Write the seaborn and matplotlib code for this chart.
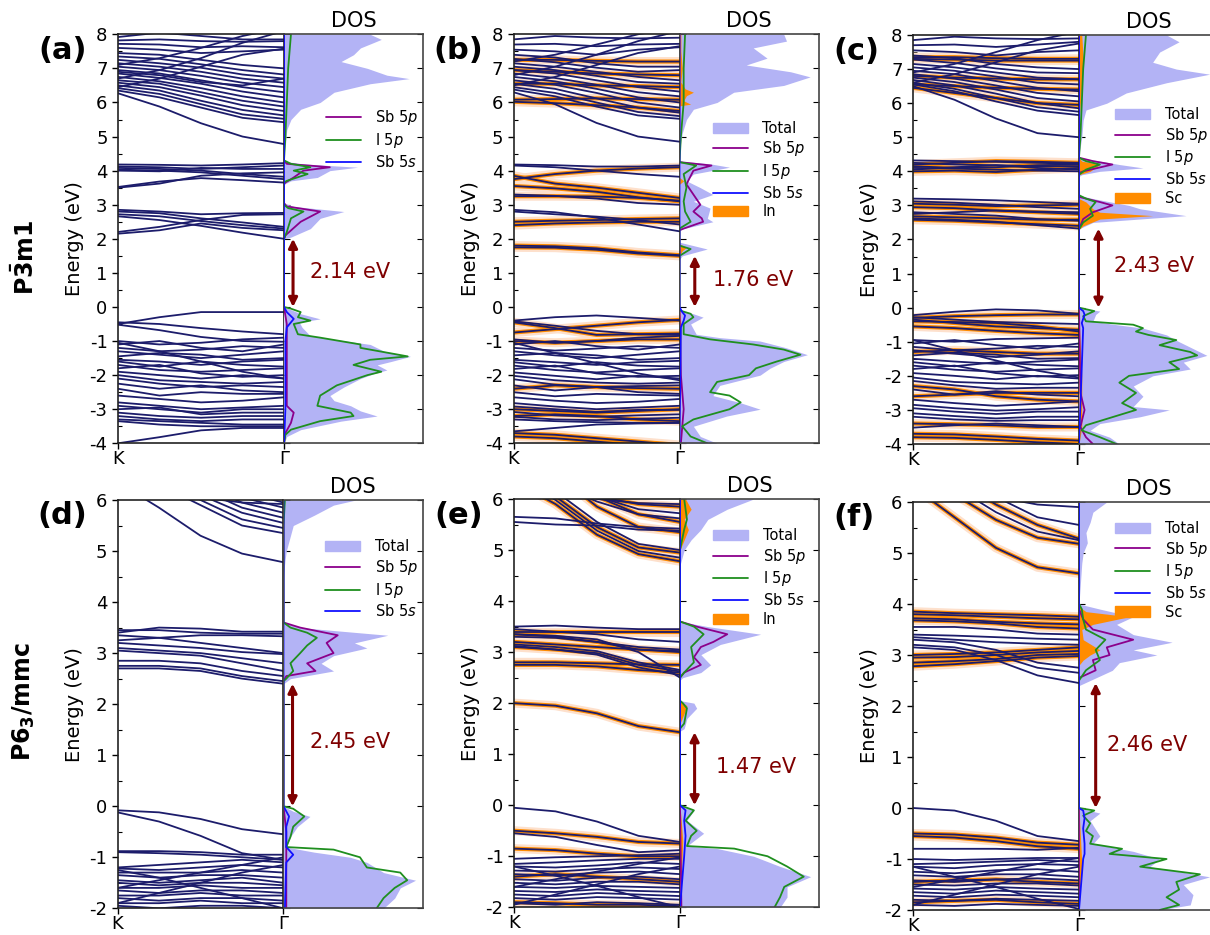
import numpy as np
import pandas as pd
import matplotlib
matplotlib.use('Agg')
import matplotlib.pyplot as plt
from matplotlib.patches import Patch
from matplotlib.lines import Line2D
import seaborn as sns

sns.set_style('ticks')
plt.rcParams['font.family'] = ['DejaVu Sans']
plt.rcParams['mathtext.fontset'] = 'dejavusans'
plt.rcParams['axes.unicode_minus'] = False
for key in ['text.color', 'axes.labelcolor', 'xtick.color', 'ytick.color']:
    plt.rcParams[key] = 'black'

# k-path samples from K (0) to Gamma (1)
k_pts = [0.0, 0.25, 0.5, 0.75, 1.0]

# ---------------- band energies (eV) at the k samples ----------------
# (a) P-3m1 pristine
a_plain = [
    [6.27, 5.88, 5.39, 5.00, 4.78], [6.35, 6.15, 5.85, 5.55, 5.42], [6.42, 6.25, 5.95, 5.65, 5.52],
    [6.50, 6.35, 6.05, 5.78, 5.62], [6.58, 6.45, 6.20, 5.92, 5.75], [6.65, 6.55, 6.30, 6.05, 5.88],
    [6.75, 6.62, 6.42, 6.18, 6.00], [6.85, 6.72, 6.55, 6.32, 6.15], [6.95, 6.85, 6.65, 6.45, 6.30],
    [7.05, 6.95, 6.78, 6.58, 6.45], [7.15, 7.05, 6.90, 6.70, 6.58], [7.25, 7.15, 7.02, 6.82, 6.70],
    [7.35, 7.28, 7.12, 6.95, 6.82], [7.45, 7.40, 7.25, 7.10, 7.00], [7.60, 7.55, 7.45, 7.50, 7.55],
    [7.72, 7.70, 7.62, 7.65, 7.62], [7.82, 7.85, 7.80, 7.78, 7.80], [7.92, 8.05, 7.95, 7.85, 7.85],
    [6.45, 6.70, 7.05, 7.40, 7.58], [6.70, 6.95, 7.30, 7.75, 8.10], [7.10, 7.30, 7.60, 7.95, 8.20],
    [6.90, 6.80, 6.60, 6.50, 6.70],
    [4.18, 4.17, 4.15, 4.18, 4.22], [4.12, 4.10, 4.05, 4.10, 4.15], [4.08, 4.05, 4.00, 3.90, 3.82],
    [4.03, 4.00, 3.95, 3.85, 3.75], [4.00, 3.98, 4.08, 4.05, 4.05], [3.50, 3.62, 3.85, 3.92, 3.95],
    [3.52, 3.68, 3.78, 3.72, 3.65],
    [2.85, 2.80, 2.72, 2.75, 2.76], [2.80, 2.75, 2.60, 2.48, 2.35], [2.72, 2.66, 2.52, 2.40, 2.30],
    [2.66, 2.55, 2.38, 2.18, 2.00], [2.20, 2.35, 2.55, 2.70, 2.72], [2.15, 2.25, 2.45, 2.32, 2.25],
    [-0.50, -0.30, -0.15, -0.15, -0.15], [-0.45, -0.50, -0.62, -0.72, -0.80], [-0.52, -0.68, -0.88, -1.00, -1.02],
    [-1.00, -1.10, -1.05, -0.95, -0.90], [-1.10, -1.00, -1.20, -1.30, -1.10], [-1.20, -1.30, -1.25, -1.15, -1.20],
    [-1.30, -1.40, -1.50, -1.40, -1.30], [-1.45, -1.35, -1.40, -1.55, -1.50], [-1.55, -1.60, -1.70, -1.60, -1.55],
    [-1.60, -1.75, -1.60, -1.70, -1.75], [-1.70, -1.85, -1.90, -1.85, -1.80], [-1.80, -1.70, -1.95, -2.05, -2.00],
    [-1.90, -2.00, -2.10, -2.00, -2.10], [-2.00, -2.15, -2.20, -2.25, -2.20], [-2.10, -2.25, -2.35, -2.30, -2.35],
    [-2.25, -2.40, -2.30, -2.45, -2.50], [-2.40, -2.60, -2.50, -2.55, -2.55], [-2.60, -2.70, -2.80, -2.75, -2.65],
    [-2.80, -2.90, -3.00, -2.95, -2.90], [-2.90, -3.00, -3.10, -3.00, -3.00], [-3.00, -2.95, -3.15, -3.10, -3.10],
    [-3.10, -3.20, -3.25, -3.20, -3.20], [-3.20, -3.30, -3.35, -3.30, -3.30], [-3.30, -3.35, -3.40, -3.45, -3.45],
    [-3.35, -3.45, -3.50, -3.50, -3.50], [-4.00, -3.82, -3.62, -3.55, -3.55], [-1.05, -1.30, -1.60, -1.90, -2.10],
]
a_orange = []

# (b) P-3m1 with In
b_plain = [
    [6.30, 5.95, 5.40, 5.00, 4.85], [6.38, 6.18, 5.88, 5.62, 5.52], [6.45, 6.28, 6.00, 5.72, 5.60],
    [6.55, 6.40, 6.12, 5.85, 5.70], [6.65, 6.52, 6.28, 6.00, 5.85], [6.75, 6.62, 6.40, 6.15, 6.00],
    [6.85, 6.72, 6.52, 6.30, 6.18], [6.95, 6.85, 6.65, 6.45, 6.32], [7.05, 6.95, 6.78, 6.60, 6.55],
    [7.15, 7.05, 6.90, 6.75, 6.65], [7.28, 7.18, 7.02, 6.90, 6.95], [7.40, 7.32, 7.15, 7.05, 7.05],
    [7.55, 7.50, 7.40, 7.55, 7.62], [7.70, 7.72, 7.65, 7.70, 7.72], [7.85, 7.95, 7.90, 7.88, 7.90],
    [6.50, 6.75, 7.10, 7.45, 7.65], [6.80, 7.05, 7.40, 7.80, 8.10], [7.20, 7.40, 7.70, 8.00, 8.20],
    [4.18, 4.16, 4.12, 4.12, 4.15], [4.15, 4.10, 4.00, 3.90, 3.82], [2.85, 2.78, 2.62, 2.42, 2.22],
    [3.30, 3.26, 3.18, 3.05, 3.00], [2.80, 2.72, 2.65, 2.55, 2.42],
    [-0.40, -0.30, -0.25, -0.32, -0.40], [-0.42, -0.55, -0.70, -0.80, -0.82],
    [-0.95, -1.05, -1.00, -0.90, -0.85], [-1.10, -1.00, -1.15, -1.25, -1.10], [-1.20, -1.28, -1.22, -1.15, -1.20],
    [-1.30, -1.42, -1.50, -1.40, -1.30], [-1.42, -1.35, -1.42, -1.55, -1.50], [-1.55, -1.62, -1.70, -1.62, -1.58],
    [-1.62, -1.75, -1.62, -1.72, -1.75], [-1.72, -1.85, -1.92, -1.85, -1.80], [-1.82, -1.72, -1.95, -2.05, -2.02],
    [-1.92, -2.02, -2.12, -2.02, -2.10], [-2.02, -2.15, -2.22, -2.25, -2.22], [-2.12, -2.28, -2.35, -2.32, -2.30],
    [-2.30, -2.45, -2.35, -2.50, -2.55], [-2.50, -2.62, -2.55, -2.58, -2.60], [-2.65, -2.75, -2.82, -2.78, -2.70],
    [-2.82, -2.92, -3.00, -2.95, -2.90], [-2.92, -3.00, -3.08, -3.02, -3.02], [-3.08, -3.18, -3.22, -3.18, -3.15],
    [-3.22, -3.30, -3.32, -3.28, -3.25], [-3.30, -3.35, -3.38, -3.40, -3.40], [-3.65, -3.55, -3.45, -3.42, -3.40],
    [-1.05, -1.35, -1.65, -1.95, -2.15],
]
b_orange = [
    [6.02, 5.98, 5.92, 5.85, 5.75], [6.55, 6.55, 6.50, 6.48, 6.45], [6.95, 6.90, 6.85, 6.82, 6.80],
    [7.25, 7.25, 7.22, 7.20, 7.20], [6.08, 6.10, 6.12, 6.10, 6.08],
    [3.85, 3.62, 3.50, 3.35, 3.20], [3.75, 3.90, 4.00, 4.06, 4.10], [3.55, 3.48, 3.38, 3.22, 3.10],
    [3.25, 3.25, 3.24, 3.20, 3.12], [2.50, 2.53, 2.55, 2.58, 2.60], [2.40, 2.45, 2.48, 2.50, 2.50],
    [1.80, 1.78, 1.72, 1.60, 1.52], [1.75, 1.74, 1.68, 1.57, 1.50],
    [-0.45, -0.62, -0.82, -0.80, -0.78], [-0.75, -0.65, -0.55, -0.45, -0.38],
    [-1.00, -1.05, -1.00, -0.95, -0.95], [-2.40, -2.30, -2.35, -2.38, -2.40], [-3.00, -3.05, -3.10, -3.05, -3.00],
    [-3.20, -3.15, -3.20, -3.30, -3.35], [-3.70, -3.75, -3.85, -3.95, -4.05], [-3.80, -3.85, -3.95, -4.05, -4.12],
]

# (c) P-3m1 with Sc
c_plain = [
    [6.50, 6.10, 5.55, 5.12, 5.00], [6.55, 6.35, 6.05, 5.78, 5.65], [6.60, 6.42, 6.15, 5.88, 5.75],
    [6.68, 6.52, 6.28, 6.00, 5.85], [6.75, 6.62, 6.40, 6.15, 6.05], [6.85, 6.72, 6.52, 6.30, 6.20],
    [6.95, 6.85, 6.65, 6.45, 6.35], [7.05, 6.95, 6.78, 6.60, 6.55], [7.15, 7.05, 6.90, 6.75, 6.70],
    [7.28, 7.18, 7.02, 6.90, 6.88], [7.40, 7.32, 7.15, 7.05, 7.00], [7.55, 7.50, 7.40, 7.50, 7.55],
    [7.70, 7.72, 7.65, 7.72, 7.80], [7.85, 7.95, 7.90, 7.88, 7.90], [6.60, 6.85, 7.20, 7.55, 7.75],
    [6.90, 7.15, 7.50, 7.85, 8.10],
    [4.32, 4.30, 4.28, 4.25, 4.22], [4.25, 4.20, 4.18, 4.15, 4.15], [4.10, 4.08, 4.05, 4.02, 4.00],
    [4.05, 4.12, 4.18, 4.10, 4.05],
    [3.20, 3.18, 3.15, 3.10, 3.05], [3.12, 3.08, 3.02, 2.95, 2.90], [2.80, 2.75, 2.70, 2.60, 2.55],
    [2.62, 2.58, 2.52, 2.42, 2.32], [2.75, 2.80, 2.85, 2.82, 2.80],
    [-0.22, -0.12, -0.05, -0.08, -0.18], [-0.28, -0.35, -0.42, -0.45, -0.48],
    [-0.95, -1.00, -0.92, -0.90, -0.88], [-1.05, -0.95, -1.10, -1.20, -1.05], [-1.15, -1.25, -1.20, -1.12, -1.15],
    [-1.25, -1.35, -1.45, -1.38, -1.28], [-1.40, -1.32, -1.38, -1.50, -1.48], [-1.50, -1.58, -1.65, -1.58, -1.52],
    [-1.60, -1.72, -1.60, -1.68, -1.72], [-1.70, -1.82, -1.88, -1.82, -1.78], [-1.80, -1.70, -1.92, -2.02, -1.98],
    [-1.92, -2.00, -2.10, -2.00, -2.08], [-2.05, -2.18, -2.22, -2.25, -2.20], [-2.15, -2.28, -2.38, -2.35, -2.35],
    [-2.40, -2.55, -2.45, -2.55, -2.60], [-2.70, -2.80, -2.88, -2.82, -2.75], [-2.85, -2.95, -3.02, -2.98, -2.92],
    [-2.95, -3.05, -3.12, -3.05, -3.05], [-3.10, -3.18, -3.25, -3.20, -3.20], [-3.20, -3.28, -3.32, -3.30, -3.30],
    [-3.52, -3.45, -3.40, -3.45, -3.50], [-0.95, -1.25, -1.55, -1.85, -2.05],
]
c_orange = [
    [6.45, 6.30, 6.15, 6.00, 5.95], [6.55, 6.50, 6.45, 6.42, 6.40], [6.80, 6.75, 6.72, 6.70, 6.70],
    [7.30, 7.28, 7.25, 7.25, 7.25], [7.35, 7.35, 7.32, 7.30, 7.30],
    [4.20, 4.25, 4.30, 4.28, 4.25], [4.00, 4.02, 3.98, 4.05, 4.10], [4.15, 4.10, 4.12, 4.18, 4.20],
    [3.05, 3.02, 2.98, 3.00, 3.02], [2.95, 2.92, 2.85, 2.80, 2.75], [2.68, 2.65, 2.62, 2.58, 2.58],
    [2.58, 2.55, 2.50, 2.45, 2.40],
    [-0.35, -0.45, -0.55, -0.60, -0.65], [-0.40, -0.42, -0.45, -0.55, -0.70], [-0.55, -0.60, -0.68, -0.75, -0.80],
    [-0.30, -0.25, -0.22, -0.20, -0.20],
    [-2.30, -2.40, -2.60, -2.70, -2.75], [-2.60, -2.55, -2.50, -2.50, -2.50], [-3.40, -3.42, -3.45, -3.50, -3.50],
    [-1.30, -1.25, -1.30, -1.35, -1.35], [-3.70, -3.72, -3.78, -3.85, -3.90], [-3.80, -3.82, -3.88, -3.95, -4.00],
]

# (d) P6_3/mmc pristine
d_plain = [
    [6.35, 5.85, 5.30, 4.95, 4.78], [6.60, 6.30, 5.90, 5.50, 5.35], [6.70, 6.40, 6.00, 5.62, 5.45],
    [6.80, 6.50, 6.10, 5.75, 5.55], [6.90, 6.60, 6.22, 5.85, 5.65], [7.00, 6.70, 6.32, 5.95, 5.75],
    [7.00, 6.80, 6.42, 6.05, 5.85], [7.10, 6.90, 6.55, 6.15, 5.95], [6.40, 6.20, 6.05, 5.95, 5.92],
    [3.40, 3.50, 3.48, 3.42, 3.42], [3.45, 3.45, 3.40, 3.38, 3.38], [3.35, 3.30, 3.35, 3.35, 3.33],
    [3.25, 3.30, 3.20, 3.10, 3.00], [3.20, 3.15, 3.10, 3.02, 2.98], [3.10, 3.05, 3.00, 2.90, 2.80],
    [3.05, 3.00, 2.95, 2.80, 2.65], [2.85, 2.85, 2.80, 2.65, 2.55], [2.75, 2.75, 2.70, 2.55, 2.45],
    [2.70, 2.70, 2.65, 2.50, 2.40],
    [-0.08, -0.12, -0.25, -0.45, -0.55], [-0.12, -0.30, -0.58, -0.92, -1.05],
    [-0.88, -0.88, -0.90, -0.95, -0.95], [-0.90, -0.92, -0.95, -1.00, -1.05], [-1.20, -1.15, -1.10, -1.05, -1.10],
    [-1.22, -1.25, -1.20, -1.15, -1.20], [-1.30, -1.30, -1.30, -1.25, -1.30], [-1.35, -1.40, -1.35, -1.35, -1.40],
    [-1.45, -1.50, -1.45, -1.40, -1.50], [-1.50, -1.55, -1.50, -1.50, -1.55], [-1.60, -1.60, -1.55, -1.60, -1.60],
    [-1.65, -1.70, -1.65, -1.65, -1.70], [-1.75, -1.75, -1.70, -1.75, -1.75], [-1.80, -1.85, -1.80, -1.80, -1.85],
    [-1.90, -1.90, -1.85, -1.90, -1.90], [-1.95, -2.00, -1.95, -1.95, -2.00], [-1.60, -1.45, -1.30, -1.15, -1.00],
    [-1.90, -1.70, -1.50, -1.30, -1.15], [-1.25, -1.40, -1.60, -1.80, -2.00],
]
d_orange = []

# (e) P6_3/mmc with In
e_plain = [
    [5.65, 5.62, 5.52, 5.45, 5.42], [5.55, 5.50, 5.48, 5.40, 5.38], [6.60, 6.30, 5.95, 5.70, 5.62],
    [6.70, 6.40, 6.05, 5.80, 5.72], [6.30, 6.15, 6.00, 5.92, 5.90], [6.45, 5.98, 5.38, 4.98, 4.85],
    [6.65, 6.15, 5.55, 5.12, 5.00],
    [3.50, 3.52, 3.48, 3.45, 3.45], [3.45, 3.40, 3.35, 3.25, 3.20], [3.30, 3.28, 3.20, 3.10, 3.05],
    [3.15, 3.10, 3.02, 2.80, 2.65], [3.12, 3.05, 2.95, 2.70, 2.55], [3.35, 3.32, 3.25, 3.00, 2.50],
    [-0.05, -0.12, -0.32, -0.60, -0.72], [-0.55, -0.62, -0.78, -0.92, -0.88],
    [-1.05, -1.02, -1.00, -0.98, -0.95], [-1.15, -1.12, -1.08, -1.05, -1.05], [-1.20, -1.22, -1.18, -1.12, -1.15],
    [-1.28, -1.30, -1.25, -1.22, -1.25], [-1.35, -1.38, -1.32, -1.30, -1.35], [-1.45, -1.48, -1.42, -1.40, -1.45],
    [-1.52, -1.55, -1.50, -1.50, -1.55], [-1.60, -1.62, -1.58, -1.60, -1.62], [-1.68, -1.70, -1.65, -1.68, -1.70],
    [-1.75, -1.78, -1.72, -1.75, -1.78], [-1.82, -1.85, -1.80, -1.82, -1.85], [-1.92, -1.95, -1.90, -1.92, -1.95],
    [-1.60, -1.45, -1.30, -1.15, -1.02], [-1.95, -1.75, -1.55, -1.35, -1.20], [-1.20, -1.38, -1.58, -1.80, -2.00],
]
e_orange = [
    [6.35, 5.90, 5.30, 4.92, 4.78], [6.55, 6.05, 5.45, 5.05, 4.95], [7.00, 6.50, 5.85, 5.45, 5.35],
    [6.80, 6.45, 6.05, 5.70, 5.55], [6.40, 6.25, 6.05, 5.90, 5.85],
    [3.40, 3.40, 3.40, 3.40, 3.40], [3.35, 3.30, 3.20, 3.05, 3.00], [3.20, 3.15, 3.10, 3.05, 3.02],
    [2.80, 2.80, 2.78, 2.76, 2.75], [2.75, 2.75, 2.72, 2.65, 2.60], [3.10, 3.05, 2.98, 2.75, 2.62],
    [2.00, 1.95, 1.80, 1.55, 1.43],
    [-0.50, -0.55, -0.62, -0.72, -0.75], [-0.85, -0.88, -0.95, -1.00, -1.00],
    [-1.90, -1.92, -1.95, -1.95, -1.98], [-1.40, -1.35, -1.40, -1.45, -1.50],
]

# (f) P6_3/mmc with Sc
f_plain = [
    [6.75, 6.30, 5.80, 5.42, 5.25], [7.00, 6.55, 6.10, 5.70, 5.55], [6.50, 6.30, 6.10, 5.95, 5.90],
    [3.55, 3.55, 3.50, 3.42, 3.40], [3.40, 3.38, 3.35, 3.32, 3.30], [3.35, 3.30, 3.25, 3.22, 3.20],
    [3.30, 3.25, 3.10, 2.85, 2.75], [3.20, 3.15, 3.00, 2.75, 2.65], [3.15, 3.10, 2.90, 2.60, 2.45],
    [0.00, -0.05, -0.25, -0.55, -0.65], [-0.80, -0.80, -0.80, -0.82, -0.78],
    [-1.00, -1.02, -1.00, -0.98, -0.98], [-1.10, -1.08, -1.05, -1.02, -1.05], [-1.15, -1.18, -1.12, -1.10, -1.12],
    [-1.25, -1.28, -1.22, -1.20, -1.25], [-1.32, -1.35, -1.30, -1.30, -1.35], [-1.42, -1.45, -1.40, -1.38, -1.42],
    [-1.50, -1.52, -1.48, -1.48, -1.52], [-1.58, -1.60, -1.55, -1.58, -1.60], [-1.65, -1.68, -1.62, -1.65, -1.68],
    [-1.72, -1.75, -1.70, -1.72, -1.75], [-1.80, -1.82, -1.78, -1.80, -1.82], [-1.90, -1.92, -1.88, -1.90, -1.92],
    [-1.55, -1.40, -1.25, -1.10, -0.98], [-1.90, -1.70, -1.50, -1.30, -1.15], [-1.15, -1.35, -1.55, -1.78, -1.98],
]
f_orange = [
    [6.30, 5.70, 5.10, 4.72, 4.60], [6.60, 6.15, 5.65, 5.30, 5.18], [6.90, 6.45, 5.95, 5.55, 5.28],
    [3.85, 3.82, 3.80, 3.78, 3.75], [3.80, 3.78, 3.75, 3.72, 3.70], [3.72, 3.70, 3.65, 3.62, 3.60],
    [3.68, 3.66, 3.62, 3.55, 3.52], [3.00, 3.02, 3.05, 3.10, 3.15], [2.95, 2.96, 3.00, 3.05, 3.08],
    [2.85, 2.88, 2.92, 3.00, 3.02], [2.78, 2.82, 2.88, 2.95, 2.98],
    [-0.50, -0.52, -0.58, -0.68, -0.72], [-0.55, -0.58, -0.65, -0.75, -0.80],
    [-1.45, -1.42, -1.40, -1.45, -1.48], [-1.85, -1.82, -1.80, -1.85, -1.88],
]

# ---------------- DOS: (energy eV, DOS arb. units) ----------------
a_total = [(-4.0, 0), (-3.8, 2), (-3.6, 12), (-3.35, 41), (-3.2, 67), (-3.05, 55), (-2.9, 48), (-2.75, 36),
           (-2.6, 33), (-2.35, 43), (-2.1, 55), (-1.95, 65), (-1.85, 74), (-1.7, 67), (-1.6, 77), (-1.45, 91),
           (-1.3, 72), (-1.1, 62), (-0.95, 36), (-0.85, 19), (-0.6, 13), (-0.45, 11), (-0.35, 26), (-0.2, 12),
           (-0.08, 5), (0.0, 0), (2.0, 0), (2.05, 5), (2.3, 19), (2.6, 26), (2.8, 43), (2.95, 7), (3.05, 0),
           (3.6, 0), (3.7, 5), (3.8, 24), (4.0, 33), (4.1, 53), (4.2, 12), (4.28, 0), (4.5, 0), (4.75, 1),
           (5.2, 2), (5.5, 5), (5.8, 12), (6.0, 26), (6.3, 36), (6.55, 62), (6.7, 90), (6.8, 74), (7.0, 60),
           (7.2, 41), (7.4, 50), (7.6, 55), (7.85, 70), (8.0, 62)]
a_i5p = [(-4.0, 0), (-3.75, 1), (-3.6, 5), (-3.35, 26), (-3.2, 50), (-3.1, 48), (-2.9, 24), (-2.6, 26),
         (-2.3, 38), (-2.0, 60), (-1.9, 70), (-1.7, 50), (-1.55, 62), (-1.45, 89), (-1.2, 55), (-1.1, 55),
         (-0.9, 26), (-0.8, 10), (-0.5, 7), (-0.4, 19), (-0.3, 10), (-0.15, 12), (-0.05, 5), (0.0, 0), (2.0, 0),
         (2.2, 2), (2.6, 5), (2.8, 14), (2.9, 3), (3.0, 0), (3.65, 0), (3.7, 2), (3.9, 17), (4.0, 7), (4.1, 19),
         (4.2, 5), (4.3, 0), (5.0, 1), (6.0, 2), (7.0, 3), (8.0, 5)]
a_sb5p = [(-4.0, 0), (-3.7, 1), (-3.4, 5), (-3.1, 7), (-2.9, 2), (-2.0, 2), (-1.0, 2), (-0.5, 2), (0.0, 0),
          (2.0, 0), (2.1, 1), (2.5, 12), (2.8, 26), (2.95, 2), (3.05, 0), (3.6, 0), (3.65, 1), (3.8, 7),
          (4.0, 14), (4.1, 33), (4.2, 2), (4.3, 0), (8.0, 0)]
a_sb5s = [(-4.0, 0), (-3.0, 1), (-1.0, 1), (-0.6, 2), (-0.35, 7), (-0.15, 2), (0.0, 0), (8.0, 0)]
a_metal = []

b_total = [(-4.0, 27), (-3.8, 15), (-3.5, 10), (-3.2, 34), (-3.0, 58), (-2.8, 43), (-2.6, 24), (-2.3, 29),
           (-2.0, 58), (-1.8, 65), (-1.6, 75), (-1.4, 92), (-1.2, 77), (-1.0, 58), (-0.9, 29), (-0.8, 12),
           (-0.5, 8), (-0.3, 17), (-0.2, 10), (-0.1, 0), (1.4, 0), (1.5, 2), (1.7, 20), (1.8, 10), (1.9, 0),
           (2.25, 0), (2.3, 3), (2.5, 24), (2.6, 20), (2.9, 22), (3.1, 10), (3.3, 24), (3.5, 15), (3.7, 5),
           (3.9, 10), (4.1, 36), (4.2, 22), (4.28, 0), (4.6, 0), (5.1, 2), (5.5, 5), (5.8, 10), (6.0, 27),
           (6.3, 39), (6.5, 75), (6.75, 94), (6.9, 80), (7.1, 48), (7.3, 63), (7.6, 53), (7.8, 77), (8.0, 75)]
b_i5p = [(-4.0, 20), (-3.8, 8), (-3.5, 2), (-3.3, 10), (-3.0, 36), (-2.8, 44), (-2.6, 36), (-2.5, 22),
         (-2.2, 27), (-2.0, 50), (-1.8, 55), (-1.6, 70), (-1.4, 87), (-1.25, 75), (-1.1, 53), (-0.95, 22),
         (-0.8, 3), (-0.5, 3), (-0.3, 10), (-0.2, 8), (-0.1, 0), (1.5, 0), (1.7, 8), (1.8, 0), (2.3, 0),
         (2.5, 8), (2.8, 4), (3.1, 3), (3.5, 5), (3.9, 3), (4.15, 12), (4.25, 0), (5.0, 1), (6.0, 3),
         (7.0, 3), (8.0, 4)]
b_sb5p = [(-4.0, 1), (-3.0, 3), (-2.0, 1), (0.0, 0), (2.25, 0), (2.3, 3), (2.5, 17), (2.6, 16), (2.8, 10),
          (3.0, 15), (3.3, 10), (3.6, 5), (4.0, 10), (4.15, 23), (4.25, 0), (8.0, 0)]
b_sb5s = [(-4.0, 0), (-0.6, 1), (-0.4, 3), (-0.25, 4), (-0.15, 2), (0.0, 0), (8.0, 0)]
b_metal = [(-4.0, 0), (-0.5, 1), (0.0, 0), (1.5, 0), (1.65, 2), (1.75, 5), (1.85, 0), (3.6, 0), (3.7, 3),
           (3.8, 0), (5.9, 0), (5.95, 8), (6.05, 3), (6.2, 5), (6.3, 10), (6.4, 4), (6.6, 1), (7.0, 2),
           (7.5, 1), (8.0, 1)]

c_total = [(-4.0, 29), (-3.8, 22), (-3.6, 8), (-3.4, 15), (-3.2, 44), (-3.0, 65), (-2.9, 39), (-2.6, 46),
           (-2.3, 39), (-2.0, 53), (-1.8, 80), (-1.6, 75), (-1.4, 92), (-1.2, 82), (-1.0, 72), (-0.8, 63),
           (-0.6, 46), (-0.5, 27), (-0.4, 10), (-0.2, 12), (-0.1, 15), (0.0, 0), (2.3, 0), (2.35, 2),
           (2.5, 10), (2.7, 77), (2.9, 44), (3.0, 36), (3.2, 10), (3.3, 0), (3.85, 0), (3.9, 2), (4.0, 15),
           (4.1, 46), (4.2, 29), (4.3, 15), (4.4, 0), (4.5, 0), (5.0, 2), (5.5, 3), (5.8, 5), (6.0, 20),
           (6.3, 34), (6.6, 63), (6.85, 94), (7.0, 70), (7.2, 53), (7.5, 58), (7.8, 72), (8.0, 63)]
c_i5p = [(-4.0, 27), (-3.8, 15), (-3.6, 2), (-3.45, 5), (-3.2, 25), (-3.0, 41), (-2.8, 31), (-2.5, 41),
         (-2.2, 29), (-2.0, 36), (-1.8, 72), (-1.6, 65), (-1.4, 85), (-1.3, 80), (-1.1, 58), (-0.95, 70),
         (-0.8, 50), (-0.7, 41), (-0.6, 46), (-0.5, 39), (-0.4, 5), (-0.25, 3), (-0.1, 11), (0.0, 0),
         (2.3, 0), (2.5, 3), (2.7, 10), (2.9, 8), (3.1, 12), (3.2, 5), (3.3, 0), (3.9, 0), (4.05, 5),
         (4.2, 15), (4.3, 5), (4.4, 0), (5.0, 1), (6.0, 2), (7.0, 3), (8.0, 5)]
c_sb5p = [(-4.0, 10), (-3.8, 5), (-3.5, 1), (-3.0, 4), (-2.5, 1), (0.0, 0), (2.3, 0), (2.6, 3), (2.8, 10),
          (3.0, 24), (3.1, 15), (3.25, 0), (3.95, 0), (4.0, 3), (4.2, 24), (4.3, 10), (4.4, 0), (8.0, 0)]
c_sb5s = [(-4.0, 0), (-0.6, 3), (-0.45, 2), (-0.2, 4), (-0.1, 3), (0.0, 0), (8.0, 0)]
c_metal = [(-4.0, 0), (-3.5, 2), (-3.0, 2), (-2.0, 2), (-0.3, 0), (0.0, 0), (2.3, 0), (2.4, 3), (2.6, 15),
           (2.7, 53), (2.8, 15), (2.9, 10), (3.1, 5), (3.2, 0), (3.9, 0), (4.0, 8), (4.2, 15), (4.3, 2),
           (4.4, 0), (5.5, 0), (6.5, 2), (7.3, 3), (8.0, 2)]

d_total = [(-2.0, 72), (-1.8, 80), (-1.6, 84), (-1.45, 95), (-1.3, 72), (-1.1, 60), (-1.0, 48), (-0.9, 22),
           (-0.8, 2), (-0.6, 5), (-0.4, 10), (-0.2, 19), (-0.1, 7), (0.0, 0), (2.4, 0), (2.5, 5), (2.65, 36),
           (2.8, 27), (2.95, 36), (3.1, 60), (3.2, 51), (3.35, 75), (3.5, 12), (3.6, 0), (4.5, 0), (4.8, 1),
           (5.0, 2), (5.3, 5), (5.5, 7), (5.7, 22), (5.9, 36), (6.0, 52)]
d_i5p = [(-2.0, 67), (-1.8, 72), (-1.6, 80), (-1.45, 89), (-1.3, 84), (-1.2, 60), (-1.0, 55), (-0.85, 36),
         (-0.8, 2), (-0.6, 5), (-0.4, 7), (-0.2, 15), (-0.05, 7), (0.0, 0), (2.45, 0), (2.5, 2), (2.65, 7),
         (2.8, 5), (3.0, 12), (3.15, 17), (3.3, 24), (3.4, 17), (3.5, 5), (3.6, 0), (5.5, 0), (6.0, 1)]
d_sb5p = [(-2.0, 2), (-1.0, 2), (-0.5, 2), (0.0, 0), (2.45, 0), (2.55, 2), (2.65, 23), (2.8, 17), (3.0, 36),
          (3.2, 31), (3.35, 39), (3.5, 12), (3.6, 0), (6.0, 0)]
d_sb5s = [(-2.0, 1), (-1.1, 2), (-0.95, 7), (-0.8, 2), (-0.6, 2), (-0.4, 2), (-0.2, 4), (-0.1, 2), (0.0, 0),
          (6.0, 0)]
d_metal = []

e_total = [(-2.0, 72), (-1.8, 77), (-1.6, 77), (-1.4, 94), (-1.2, 72), (-1.0, 53), (-0.85, 27), (-0.8, 5),
           (-0.55, 17), (-0.3, 5), (-0.1, 10), (0.0, 0), (1.45, 0), (1.5, 3), (1.7, 5), (1.9, 12), (2.0, 10),
           (2.05, 0), (2.45, 0), (2.5, 2), (2.6, 15), (2.75, 22), (2.95, 15), (3.15, 29), (3.35, 58),
           (3.5, 20), (3.6, 0), (4.7, 0), (4.8, 1), (5.0, 3), (5.2, 8), (5.4, 15), (5.6, 20), (5.8, 34),
           (6.0, 53)]
e_i5p = [(-2.0, 68), (-1.8, 72), (-1.6, 75), (-1.4, 89), (-1.2, 77), (-1.0, 63), (-0.85, 39), (-0.8, 5),
         (-0.6, 8), (-0.5, 12), (-0.3, 4), (-0.1, 10), (-0.05, 5), (0.0, 0), (1.5, 0), (1.6, 3), (1.9, 5),
         (2.0, 2), (2.05, 0), (2.5, 0), (2.6, 3), (2.8, 10), (3.1, 8), (3.35, 17), (3.5, 10), (3.6, 0),
         (5.0, 0), (5.4, 3), (5.6, 5), (6.0, 3)]
e_sb5p = [(-2.0, 1), (0.0, 0), (2.5, 0), (2.6, 3), (2.75, 15), (2.9, 10), (3.1, 15), (3.2, 24), (3.35, 34),
          (3.5, 12), (3.6, 0), (6.0, 0)]
e_sb5s = [(-2.0, 0), (-1.0, 3), (-0.6, 4), (-0.3, 3), (-0.1, 4), (0.0, 0), (6.0, 0)]
e_metal = [(-2.0, 0), (-0.7, 2), (0.0, 0), (1.6, 0), (1.8, 3), (1.95, 5), (2.05, 0), (5.0, 0), (5.2, 3),
           (5.4, 6), (5.6, 3), (5.8, 8), (6.0, 4)]

f_total = [(-2.0, 58), (-1.9, 80), (-1.7, 82), (-1.5, 75), (-1.35, 94), (-1.15, 51), (-1.0, 58), (-0.85, 39),
           (-0.7, 10), (-0.55, 15), (-0.25, 8), (-0.1, 15), (0.0, 0), (2.4, 0), (2.5, 8), (2.7, 24),
           (2.85, 29), (3.0, 56), (3.1, 39), (3.25, 67), (3.4, 39), (3.6, 27), (3.75, 39), (3.9, 15),
           (4.0, 0), (4.8, 2), (5.0, 3), (5.2, 6), (5.4, 5), (5.6, 8), (5.8, 10), (6.0, 20)]
f_i5p = [(-2.0, 58), (-1.9, 72), (-1.75, 63), (-1.6, 72), (-1.45, 70), (-1.3, 87), (-1.15, 44), (-1.0, 63),
         (-0.9, 22), (-0.8, 31), (-0.7, 8), (-0.55, 10), (-0.45, 5), (-0.3, 8), (-0.15, 3), (-0.05, 11),
         (0.0, 0), (2.5, 0), (2.7, 5), (2.9, 15), (3.1, 12), (3.3, 19), (3.5, 5), (3.7, 3), (3.9, 2),
         (4.0, 0), (6.0, 0)]
f_sb5p = [(-2.0, 0), (0.0, 0), (2.55, 0), (2.7, 12), (2.9, 10), (3.0, 22), (3.15, 20), (3.3, 39), (3.5, 10),
          (3.7, 3), (3.9, 0), (6.0, 0)]
f_sb5s = [(-2.0, 0), (-1.0, 3), (-0.9, 4), (-0.7, 4), (-0.4, 3), (-0.2, 4), (-0.05, 3), (0.0, 0), (6.0, 0)]
f_metal = [(-2.0, 0), (-1.1, 2), (0.0, 0), (2.8, 0), (2.9, 3), (3.0, 8), (3.1, 15), (3.3, 3), (3.5, 2),
           (3.6, 10), (3.75, 36), (3.85, 5), (3.95, 0), (6.0, 0)]

panel_tags = ['(a)', '(b)', '(c)', '(d)', '(e)', '(f)']
gap_labels = ['2.14 eV', '1.76 eV', '2.43 eV', '2.45 eV', '1.47 eV', '2.46 eV']
metal_names = [None, 'In', 'Sc', None, 'In', 'Sc']
phase_labels = [r'$\mathbf{P\bar{3}m1}$', r'$\mathbf{P6_3/mmc}$']

NAVY = '#1c1c6b'
TOTAL_C = '#b3b3f5'
SB5P_C = '#8b008b'
I5P_C = '#1f8f1f'
SB5S_C = '#1010ff'
ORANGE = '#ff8c00'
GAP_C = '#7f0000'


def band_frame(bands):
    rows = []
    for i, b in enumerate(bands):
        for k, e in zip(k_pts, b):
            rows.append((i, k, e))
    return pd.DataFrame(rows, columns=['band', 'k', 'E'])


def draw_bands(ax, plain, orange):
    if orange:
        of = band_frame(orange)
        sns.lineplot(data=of, x='k', y='E', units='band', estimator=None, sort=False,
                     color='#fde0cc', lw=6.5, ax=ax, legend=False)
        sns.lineplot(data=of, x='k', y='E', units='band', estimator=None, sort=False,
                     color=ORANGE, lw=3.0, ax=ax, legend=False)
    sns.lineplot(data=band_frame(plain + orange), x='k', y='E', units='band', estimator=None,
                 sort=False, color=NAVY, lw=1.3, ax=ax, legend=False)


def draw_dos(ax, total, sb5p, i5p, sb5s, metal):
    e, v = zip(*total)
    ax.fill_betweenx(e, 0, v, color=TOTAL_C, lw=0)
    if metal:
        e, v = zip(*metal)
        ax.fill_betweenx(e, 0, v, color=ORANGE, lw=0)
    for ser, col in [(sb5p, SB5P_C), (i5p, I5P_C), (sb5s, SB5S_C)]:
        e, v = zip(*ser)
        ax.plot(v, e, color=col, lw=1.3)


fig = plt.figure(figsize=(12.1, 9.35), dpi=100)
W, H = 1210.0, 935.0

band_left = [118, 513.5, 913, 117.5, 514, 913]
row_top = [34.3, 34.3, 35, 500, 499, 502]
row_bot = [443.3, 443.3, 444, 908.3, 907.3, 910]
band_w = 166
dos_w = 139
ylims = [(-4, 8)] * 3 + [(-2, 6)] * 3

bands_all = [(a_plain, a_orange), (b_plain, b_orange), (c_plain, c_orange),
             (d_plain, d_orange), (e_plain, e_orange), (f_plain, f_orange)]
dos_all = [(a_total, a_sb5p, a_i5p, a_sb5s, a_metal), (b_total, b_sb5p, b_i5p, b_sb5s, b_metal),
           (c_total, c_sb5p, c_i5p, c_sb5s, c_metal), (d_total, d_sb5p, d_i5p, d_sb5s, d_metal),
           (e_total, e_sb5p, e_i5p, e_sb5s, e_metal), (f_total, f_sb5p, f_i5p, f_sb5s, f_metal)]

arrow_x = [6.5, 11, 14, 6.5, 10.5, 12]
text_pos = [(19, 1.03), (24, 0.79), (25, 1.23), (19, 1.26), (26, 0.75), (20, 1.24)]
leg_anchor = [(1.03, 0.84), (0.97, 0.81), (0.99, 0.845), (1.03, 0.925), (0.97, 0.95), (0.99, 0.975)]

for i in range(6):
    top, bot = row_top[i], row_bot[i]
    h = (bot - top) / H
    y0 = 1 - bot / H
    axb = fig.add_axes([band_left[i] / W, y0, band_w / W, h])
    axd = fig.add_axes([(band_left[i] + band_w) / W, y0, dos_w / W, h])

    plain, orange = bands_all[i]
    draw_bands(axb, plain, orange)
    axb.set_xlim(0, 1)
    axb.set_ylim(*ylims[i])
    lo, hi = ylims[i]
    axb.set_yticks(np.arange(lo, hi + 1, 1))
    axb.set_yticks(np.arange(lo + 0.5, hi, 1), minor=True)
    axb.set_yticklabels([str(int(t)) for t in np.arange(lo, hi + 1, 1)])
    axb.set_xticks([0, 1])
    axb.set_xticklabels(['K', 'Γ'])
    axb.tick_params(axis='both', which='major', direction='out', length=4, width=1, labelsize=13)
    axb.tick_params(axis='x', which='major', pad=1)
    axb.tick_params(axis='y', which='minor', direction='in', length=3, width=0.8)
    axb.set_xlabel('')
    axb.set_ylabel('Energy (eV)', fontsize=14, labelpad=4)
    for s in axb.spines.values():
        s.set_color('#222222')
        s.set_linewidth(1.2)

    draw_dos(axd, *dos_all[i])
    axd.set_xlim(0, 100)
    axd.set_ylim(*ylims[i])
    axd.set_xticks([])
    axd.set_yticks(np.arange(lo, hi + 1, 1))
    axd.tick_params(axis='y', which='both', direction='in', length=4, left=True, right=True,
                    labelleft=False)
    axd.set_title('DOS', fontsize=15, pad=5)
    for s in axd.spines.values():
        s.set_color('#444444')
        s.set_linewidth(1.2)
    axd.spines['left'].set_visible(False)

    # band gap arrow
    cbm = min(min(b) for b in plain + orange if min(b) > 1.0)
    axd.annotate('', xy=(arrow_x[i], cbm), xytext=(arrow_x[i], 0.0),
                 arrowprops=dict(arrowstyle='<|-|>', color=GAP_C, lw=2.2, mutation_scale=13,
                                 shrinkA=0, shrinkB=0))
    axd.text(text_pos[i][0], text_pos[i][1], gap_labels[i], color=GAP_C, fontsize=15,
             ha='left', va='center')

    # legend
    handles = []
    if i != 0:
        handles.append(Patch(color=TOTAL_C, label='Total'))
    handles += [Line2D([], [], color=SB5P_C, lw=1.3, label='Sb 5$p$'),
                Line2D([], [], color=I5P_C, lw=1.3, label='I 5$p$'),
                Line2D([], [], color=SB5S_C, lw=1.3, label='Sb 5$s$')]
    if metal_names[i]:
        handles.append(Patch(color=ORANGE, label=metal_names[i]))
    axd.legend(handles=handles, loc='upper right', bbox_to_anchor=leg_anchor[i], frameon=False,
               fontsize=10.5, labelspacing=0.25, handlelength=2.4, handletextpad=1.0,
               borderaxespad=0.2)

    fig.text((band_left[i] - 80) / W, 1 - (top + 16) / H, panel_tags[i], fontsize=22,
             fontweight='bold', ha='left', va='center')

fig.text(25 / W, 1 - 257 / H, phase_labels[0], rotation=90, fontsize=17, ha='center', va='center')
fig.text(24 / W, 1 - 702 / H, phase_labels[1], rotation=90, fontsize=17, ha='center', va='center')

fig.savefig('out.png', dpi=100)
